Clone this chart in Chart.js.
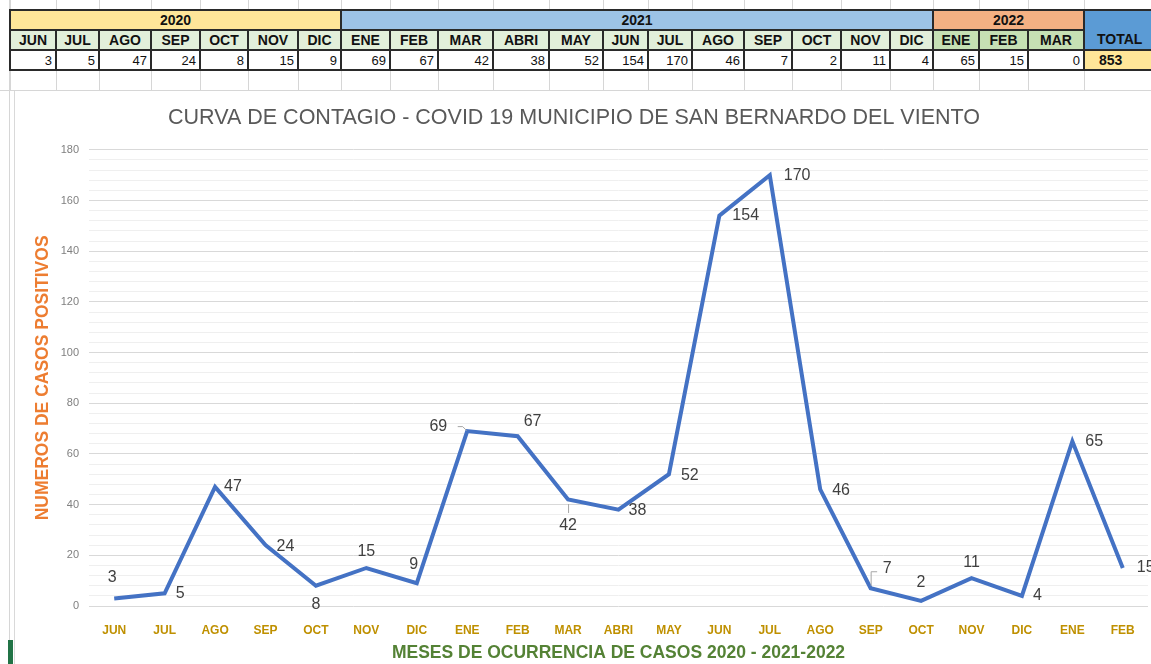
<!DOCTYPE html>
<html lang="es">
<head>
<meta charset="UTF-8">
<title>Curva de contagio COVID 19</title>
<script src="https://cdn.jsdelivr.net/npm/chart.js"></script>
<style>
    body {
        margin: 0;
        width: 1151px;
        height: 664px;
        overflow: hidden;
        position: relative;
        background: #fff;
        font-family: "Liberation Sans", Arial, sans-serif;
    }
    .cell {
        position: absolute;
        box-sizing: border-box;
        border: 2px solid #2a2a2a;
        font-weight: bold;
        font-size: 14px;
        color: #111;
        display: flex;
        align-items: center;
        justify-content: center;
        overflow: hidden;
        white-space: nowrap;
    }
    .val {
        justify-content: flex-end;
        font-weight: normal;
        font-size: 13px;
        padding-right: 3px;
    }
    .gl {
        position: absolute;
        background: #d6d6d6;
    }
    #chartBox {
        position: absolute;
        left: 0;
        top: 91px;
        width: 1175px;
        height: 573px;
    }
</style>
</head>
<body>
<div id="sheet"></div>
<div id="chartBox"><canvas id="curve"></canvas></div>

<script>
// data read from the sheet / chart
var months = ['JUN','JUL','AGO','SEP','OCT','NOV','DIC','ENE','FEB','MAR','ABRI','MAY',
              'JUN','JUL','AGO','SEP','OCT','NOV','DIC','ENE','FEB'];
var cases = [3, 5, 47, 24, 8, 15, 9, 69, 67, 42, 38, 52, 154, 170, 46, 7, 2, 11, 4, 65, 15];

// the table also has MAR 2022 (no cases yet)
var tableMonths = months.concat(['MAR']);
var tableCases = cases.concat([0]);
var years = ['2020', '2021', '2022'];
var monthsPerYear = [7, 12, 3];
var yearColors = ['#FFE699', '#9DC3E6', '#F4B183'];

var yMax = 180;
var yMajorStep = 20;
var yMinorStep = 4;

// ---- spreadsheet table ----
var sheet = document.getElementById('sheet');
var colEdges = [10,56,99,151,200,248,298,341,390,438,493,549,603,648,692,744,792,841,890,933,979,1028,1084,1175];
var rowEdges = [10, 30, 50, 70];

function addCell(x0, x1, y0, y1, text, cls, bg) {
    var d = document.createElement('div');
    d.className = cls;
    d.style.left = (x0 - 1) + 'px';
    d.style.top = (y0 - 1) + 'px';
    d.style.width = (x1 - x0 + 2) + 'px';
    d.style.height = (y1 - y0 + 2) + 'px';
    if (bg) d.style.background = bg;
    d.textContent = text;
    sheet.appendChild(d);
    return d;
}

function addLine(x, y, w, h) {
    var g = document.createElement('div');
    g.className = 'gl';
    g.style.left = x + 'px';
    g.style.top = y + 'px';
    g.style.width = w + 'px';
    g.style.height = h + 'px';
    sheet.appendChild(g);
}

// faint excel gridlines around the table
for (var i = 0; i < colEdges.length - 1; i++) {
    addLine(colEdges[i], 0, 1, 10);
    addLine(colEdges[i], 70, 1, 21);
}
addLine(0, 90, 1151, 1);
addLine(9, 0, 1, 664);

// year row
var c = 0;
for (var y = 0; y < years.length; y++) {
    addCell(colEdges[c], colEdges[c + monthsPerYear[y]], rowEdges[0], rowEdges[1], years[y], 'cell', yearColors[y]);
    c += monthsPerYear[y];
}
var totalHead = addCell(colEdges[c], colEdges[c + 1], rowEdges[0], rowEdges[2], 'TOTAL', 'cell', '#5B9BD5');
totalHead.style.justifyContent = 'flex-start';
totalHead.style.alignItems = 'flex-end';
totalHead.style.paddingLeft = '12px';
totalHead.style.paddingBottom = '2px';

// months + values
for (var m = 0; m < tableMonths.length; m++) {
    var bg = m >= tableMonths.length - 3 ? '#C6E0B4' : '#E2EFDA';
    addCell(colEdges[m], colEdges[m + 1], rowEdges[1], rowEdges[2], tableMonths[m], 'cell', bg);
    addCell(colEdges[m], colEdges[m + 1], rowEdges[2], rowEdges[3], tableCases[m], 'cell val', '#fff');
}
var total = tableCases.reduce(function (a, b) { return a + b; }, 0);
var totalCell = addCell(colEdges[c], colEdges[c + 1], rowEdges[2], rowEdges[3], total, 'cell', '#FFE699');
totalCell.style.justifyContent = 'flex-start';
totalCell.style.paddingLeft = '14px';

// little green selection mark bottom-left
var mark = document.createElement('div');
mark.style.cssText = 'position:absolute;left:8px;top:640px;width:5px;height:24px;background:#217346;';
document.body.appendChild(mark);
var frame = document.createElement('div');
frame.style.cssText = 'position:absolute;left:14px;top:91px;width:1px;height:573px;background:#d9d9d9;';
document.body.appendChild(frame);

// ---- chart ----
// where each value label sits relative to its point: [dx, dy, align]
var labelPlace = [
    [-2, -21, 'center'], [11, 0, 'left'], [9, 0, 'left'], [11, 1, 'left'], [0, 19, 'center'],
    [0, -16, 'center'], [-3, -19, 'center'], [-20, -5, 'right'], [6, -15, 'left'], [0, 26, 'center'],
    [10, 1, 'left'], [12, 1, 'left'], [13, 0, 'left'], [14, 0, 'left'], [12, 1, 'left'],
    [12, -20, 'left'], [0, -18, 'center'], [0, -16, 'center'], [11, 0, 'left'], [13, 0, 'left'],
    [14, 0, 'left']
];
// leader lines excel drew for a few labels (relative polylines)
var leaders = {
    7: [[-10, -5], [-5, -5], [-1, -1]],
    9: [[0, 4], [0, 13]],
    15: [[0, -3], [0, -17], [6, -17]]
};

var pointLabels = {
    id: 'pointLabels',
    afterDatasetsDraw: function (chart) {
        var ctx = chart.ctx;
        var pts = chart.getDatasetMeta(0).data;
        ctx.save();
        ctx.strokeStyle = '#a6a6a6';
        ctx.lineWidth = 1;
        Object.keys(leaders).forEach(function (k) {
            var p = pts[k];
            ctx.beginPath();
            leaders[k].forEach(function (d, j) {
                if (j === 0) ctx.moveTo(p.x + d[0] + 0.5, p.y + d[1] + 0.5);
                else ctx.lineTo(p.x + d[0] + 0.5, p.y + d[1] + 0.5);
            });
            ctx.stroke();
        });
        ctx.font = '16px "Liberation Sans", Arial, sans-serif';
        ctx.fillStyle = '#404040';
        ctx.textBaseline = 'middle';
        pts.forEach(function (p, i) {
            var pl = labelPlace[i];
            ctx.textAlign = pl[2];
            ctx.fillText(String(cases[i]), p.x + pl[0], p.y + pl[1]);
        });
        ctx.restore();
    }
};

new Chart(document.getElementById('curve'), {
    type: 'line',
    data: {
        labels: months,
        datasets: [{
            data: cases,
            borderColor: '#4472C4',
            borderWidth: 4,
            pointRadius: 0,
            tension: 0,
            fill: false
        }]
    },
    options: {
        responsive: true,
        maintainAspectRatio: false,
        animation: false,
        layout: { padding: { left: 0, right: 27, top: 0, bottom: 0 } },
        plugins: {
            legend: { display: false },
            tooltip: { enabled: false },
            title: {
                display: true,
                text: 'CURVA DE CONTAGIO - COVID 19 MUNICIPIO DE SAN BERNARDO DEL VIENTO',
                color: '#595959',
                font: { family: '"Liberation Sans", Arial, sans-serif', size: 21.5, weight: 'normal' },
                padding: { top: 14, bottom: 19 }
            }
        },
        scales: {
            x: {
                offset: true,
                afterFit: function (s) { s.height = 58; },
                grid: { display: false },
                border: { display: false },
                ticks: {
                    color: '#BF9000',
                    font: { family: '"Liberation Sans", Arial, sans-serif', size: 12, weight: 'bold' },
                    padding: 9,
                    maxRotation: 0,
                    autoSkip: false
                },
                title: {
                    display: true,
                    text: 'MESES DE OCURRENCIA DE CASOS 2020 - 2021-2022',
                    color: '#548235',
                    font: { family: '"Liberation Sans", Arial, sans-serif', size: 17.5, weight: 'bold' },
                    padding: { top: 0, bottom: 0 }
                }
            },
            y: {
                min: 0,
                max: yMax,
                afterFit: function (s) { s.width = 89; },
                border: { display: false },
                grid: {
                    drawTicks: false,
                    color: function (c) { return c.tick.value % yMajorStep === 0 ? '#d9d9d9' : '#efefef'; }
                },
                ticks: {
                    stepSize: yMinorStep,
                    autoSkip: false,
                    padding: 10,
                    color: '#808080',
                    font: { family: '"Liberation Sans", Arial, sans-serif', size: 11 },
                    callback: function (v) { return v % yMajorStep === 0 ? v : ''; }
                },
                title: {
                    display: true,
                    text: 'NUMEROS DE CASOS POSITIVOS',
                    color: '#ED7D31',
                    font: { family: '"Liberation Sans", Arial, sans-serif', size: 17.5, weight: 'bold' },
                    padding: { top: 33, bottom: 0 }
                }
            }
        }
    },
    plugins: [pointLabels]
});
</script>
</body>
</html>
